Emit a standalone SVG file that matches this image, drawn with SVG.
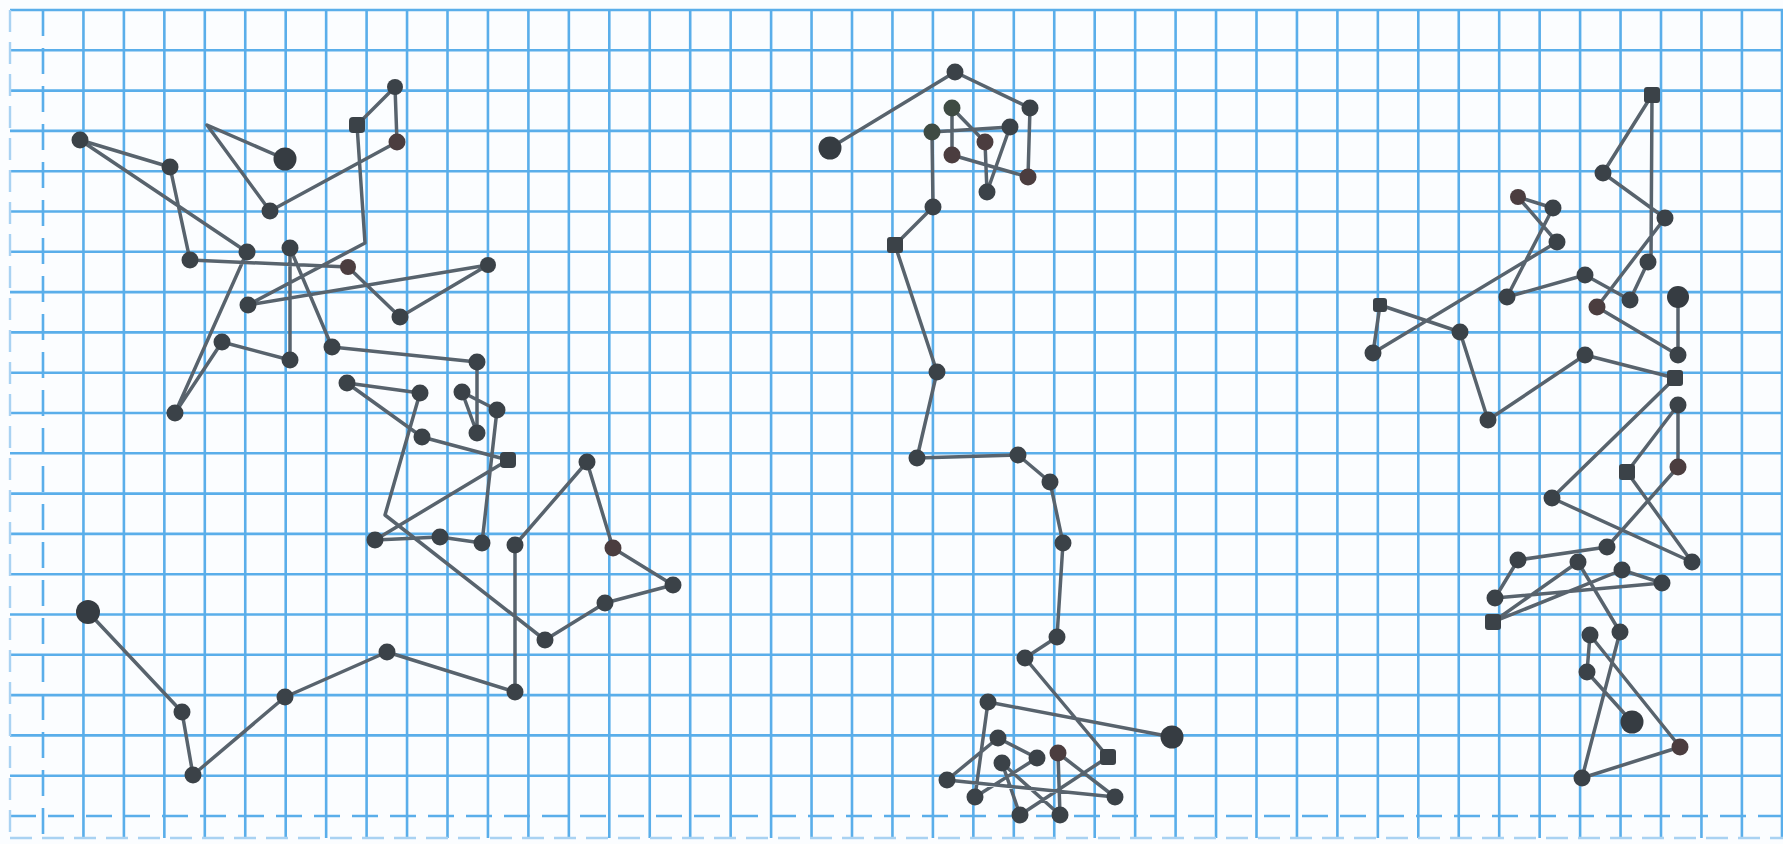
<svg xmlns="http://www.w3.org/2000/svg" width="1783" height="844" viewBox="0 0 1783 844">
<style>
.grid{stroke:#5aaeea;stroke-width:2.6;fill:none}
.edge{stroke:#5aaeea;stroke-width:2.6;fill:none;stroke-dasharray:26 12}
.faint{stroke:#a9d2f2;stroke-width:2.4;fill:none;stroke-dasharray:22 10}
.walk{stroke:#58636d;stroke-width:3.5;fill:none;stroke-linejoin:round;stroke-linecap:round}
.dot{fill:#3b4248}
.big{fill:#363c42}
.br{fill:#4b3d3f}
.gr{fill:#3f4b43}
</style>
<rect width="1783" height="844" fill="#fbfdff"/>
<g id="grid">
<path class="grid" d="M83.45 10V838M123.9 10V838M164.35 10V838M204.8 10V838M245.25 10V838M285.7 10V838M326.15 10V838M366.6 10V838M407.05 10V838M447.5 10V838M487.95 10V838M528.4 10V838M568.85 10V838M609.3 10V838M649.75 10V838M690.2 10V838M730.65 10V838M771.1 10V838M811.55 10V838M852 10V838M892.45 10V838M932.9 10V838M973.35 10V838M1013.8 10V838M1054.25 10V838M1094.7 10V838M1135.15 10V838M1175.6 10V838M1216.05 10V838M1256.5 10V838M1296.95 10V838M1337.4 10V838M1377.85 10V838M1418.3 10V838M1458.75 10V838M1499.2 10V838M1539.65 10V838M1580.1 10V838M1620.55 10V838M1661 10V838M1701.45 10V838M1741.9 10V838M1782 10V838"/>
<path class="grid" d="M10 10H1783M10 50.3H1783M10 90.6H1783M10 130.9H1783M10 171.2H1783M10 211.5H1783M10 251.8H1783M10 292.1H1783M10 332.4H1783M10 372.7H1783M10 413H1783M10 453.3H1783M10 493.6H1783M10 533.9H1783M10 574.2H1783M10 614.5H1783M10 654.8H1783M10 695.1H1783M10 735.4H1783M10 775.7H1783"/>
<path class="edge" d="M43 10V838M10 816H1783"/>
<path class="faint" d="M10 10V838M10 838H1783"/>
</g>
<g id="connectors">
<polyline id="walk-left" class="walk" points="88,612 182,712 193,775 285,697 387,652 515,692 515,545 587,462 613,548 673,585 605,603 545,640 385,515 420,393 347,383 422,437 508,460 375,540 440,537 482,543 497,410 462,392 477,433 477,362 332,347 290,248 290,360 222,342 175,413 247,252 80,140 170,167 190,260 348,267 400,317 488,265 248,305 365,243 357,125 395,87 397,142 270,211 207,125 285,159"/>
<polyline id="walk-middle" class="walk" points="830,148 955,72 1030,108 1028,177 952,155 952,108 985,142 987,192 1010,127 932,132 933,207 895,245 937,372 917,458 1018,455 1050,482 1063,543 1057,637 1025,658 1108,757 1020,815 1002,763 1060,815 1058,753 1115,797 947,780 998,738 1037,758 975,797 988,702 1172,737"/>
<polyline id="walk-right" class="walk" points="1678,297 1678,355 1597,307 1665,218 1603,173 1652,95 1651,262 1648,262 1630,300 1585,275 1507,297 1553,208 1518,197 1557,242 1373,353 1380,305 1460,332 1488,420 1585,355 1675,378 1552,498 1692,562 1627,472 1678,405 1678,467 1607,547 1518,560 1495,598 1662,583 1622,570 1493,622 1578,562 1620,632 1582,778 1680,747 1590,635 1587,672 1632,722"/>
</g>
<g id="walk-left-nodes">
<g id="l01"><circle class="big" cx="88" cy="612" r="12"/></g>
<g id="l02"><circle class="dot" cx="182" cy="712" r="8.5"/></g>
<g id="l03"><circle class="dot" cx="193" cy="775" r="8.5"/></g>
<g id="l04"><circle class="dot" cx="285" cy="697" r="8.5"/></g>
<g id="l05"><circle class="dot" cx="387" cy="652" r="8.5"/></g>
<g id="l06"><circle class="dot" cx="515" cy="692" r="8.5"/></g>
<g id="l07"><circle class="dot" cx="515" cy="545" r="8.5"/></g>
<g id="l08"><circle class="dot" cx="587" cy="462" r="8.5"/></g>
<g id="l09"><circle class="br" cx="613" cy="548" r="8.5"/></g>
<g id="l10"><circle class="dot" cx="673" cy="585" r="8.5"/></g>
<g id="l11"><circle class="dot" cx="605" cy="603" r="8.5"/></g>
<g id="l12"><circle class="dot" cx="545" cy="640" r="8.5"/></g>
<g id="l13"><circle class="dot" cx="420" cy="393" r="8.5"/></g>
<g id="l14"><circle class="dot" cx="347" cy="383" r="8.5"/></g>
<g id="l15"><circle class="dot" cx="422" cy="437" r="8.5"/></g>
<g id="l16"><rect class="dot" x="500" y="452" width="16" height="16" rx="4"/></g>
<g id="l17"><circle class="dot" cx="375" cy="540" r="8.5"/></g>
<g id="l18"><circle class="dot" cx="440" cy="537" r="8.5"/></g>
<g id="l19"><circle class="dot" cx="482" cy="543" r="8.5"/></g>
<g id="l20"><circle class="dot" cx="497" cy="410" r="8.5"/></g>
<g id="l21"><circle class="dot" cx="462" cy="392" r="8.5"/></g>
<g id="l22"><circle class="dot" cx="477" cy="433" r="8.5"/></g>
<g id="l23"><circle class="dot" cx="477" cy="362" r="8.5"/></g>
<g id="l24"><circle class="dot" cx="332" cy="347" r="8.5"/></g>
<g id="l25"><circle class="dot" cx="290" cy="248" r="8.5"/></g>
<g id="l26"><circle class="dot" cx="290" cy="360" r="8.5"/></g>
<g id="l27"><circle class="dot" cx="222" cy="342" r="8.5"/></g>
<g id="l28"><circle class="dot" cx="175" cy="413" r="8.5"/></g>
<g id="l29"><circle class="dot" cx="247" cy="252" r="8.5"/></g>
<g id="l30"><circle class="dot" cx="80" cy="140" r="8.5"/></g>
<g id="l31"><circle class="dot" cx="170" cy="167" r="8.5"/></g>
<g id="l32"><circle class="dot" cx="190" cy="260" r="8.5"/></g>
<g id="l33"><circle class="br" cx="348" cy="267" r="8"/></g>
<g id="l34"><circle class="dot" cx="400" cy="317" r="8.5"/></g>
<g id="l35"><circle class="dot" cx="488" cy="265" r="8"/></g>
<g id="l36"><circle class="dot" cx="248" cy="305" r="8.5"/></g>
<g id="l37"><rect class="dot" x="349" y="117" width="16" height="16" rx="4"/></g>
<g id="l38"><circle class="dot" cx="395" cy="87" r="8"/></g>
<g id="l39"><circle class="br" cx="397" cy="142" r="8.5"/></g>
<g id="l40"><circle class="dot" cx="270" cy="211" r="8.5"/></g>
<g id="l41"><circle class="big" cx="285" cy="159" r="11.5"/></g>
</g>
<g id="walk-middle-nodes">
<g id="m01"><circle class="big" cx="830" cy="148" r="11.5"/></g>
<g id="m02"><circle class="dot" cx="955" cy="72" r="8.5"/></g>
<g id="m03"><circle class="dot" cx="1030" cy="108" r="8.5"/></g>
<g id="m04"><circle class="br" cx="1028" cy="177" r="8.5"/></g>
<g id="m05"><circle class="br" cx="952" cy="155" r="8.5"/></g>
<g id="m06"><circle class="gr" cx="952" cy="108" r="8.5"/></g>
<g id="m07"><circle class="br" cx="985" cy="142" r="8.5"/></g>
<g id="m08"><circle class="dot" cx="987" cy="192" r="8.5"/></g>
<g id="m09"><circle class="dot" cx="1010" cy="127" r="8.5"/></g>
<g id="m10"><circle class="gr" cx="932" cy="132" r="8.5"/></g>
<g id="m11"><circle class="dot" cx="933" cy="207" r="8.5"/></g>
<g id="m12"><rect class="dot" x="887" y="237" width="16" height="16" rx="3"/></g>
<g id="m13"><circle class="dot" cx="937" cy="372" r="8.5"/></g>
<g id="m14"><circle class="dot" cx="917" cy="458" r="8.5"/></g>
<g id="m15"><circle class="dot" cx="1018" cy="455" r="8.5"/></g>
<g id="m16"><circle class="dot" cx="1050" cy="482" r="8.5"/></g>
<g id="m17"><circle class="dot" cx="1063" cy="543" r="8.5"/></g>
<g id="m18"><circle class="dot" cx="1057" cy="637" r="8.5"/></g>
<g id="m19"><circle class="dot" cx="1025" cy="658" r="8.5"/></g>
<g id="m20"><rect class="dot" x="1100" y="749" width="16" height="16" rx="3"/></g>
<g id="m21"><circle class="dot" cx="1020" cy="815" r="8.5"/></g>
<g id="m22"><circle class="dot" cx="1002" cy="763" r="8.5"/></g>
<g id="m23"><circle class="dot" cx="1060" cy="815" r="8.5"/></g>
<g id="m24"><circle class="br" cx="1058" cy="753" r="8.5"/></g>
<g id="m25"><circle class="dot" cx="1115" cy="797" r="8.5"/></g>
<g id="m26"><circle class="dot" cx="947" cy="780" r="8.5"/></g>
<g id="m27"><circle class="dot" cx="998" cy="738" r="8.5"/></g>
<g id="m28"><circle class="dot" cx="1037" cy="758" r="8.5"/></g>
<g id="m29"><circle class="dot" cx="975" cy="797" r="8.5"/></g>
<g id="m30"><circle class="dot" cx="988" cy="702" r="8.5"/></g>
<g id="m31"><circle class="big" cx="1172" cy="737" r="11.5"/></g>
</g>
<g id="walk-right-nodes">
<g id="r01"><circle class="big" cx="1678" cy="297" r="11"/></g>
<g id="r02"><circle class="dot" cx="1678" cy="355" r="8.5"/></g>
<g id="r03"><circle class="br" cx="1597" cy="307" r="8.5"/></g>
<g id="r04"><circle class="dot" cx="1665" cy="218" r="8.5"/></g>
<g id="r05"><circle class="dot" cx="1603" cy="173" r="8.5"/></g>
<g id="r06"><rect class="dot" x="1644" y="87" width="16" height="16" rx="3"/></g>
<g id="r07"><circle class="dot" cx="1648" cy="262" r="8.5"/></g>
<g id="r08"><circle class="dot" cx="1630" cy="300" r="8.5"/></g>
<g id="r09"><circle class="dot" cx="1585" cy="275" r="8.5"/></g>
<g id="r10"><circle class="dot" cx="1507" cy="297" r="8.5"/></g>
<g id="r11"><circle class="dot" cx="1553" cy="208" r="8.5"/></g>
<g id="r12"><circle class="br" cx="1518" cy="197" r="8"/></g>
<g id="r13"><circle class="dot" cx="1557" cy="242" r="8.5"/></g>
<g id="r14"><circle class="dot" cx="1373" cy="353" r="8.5"/></g>
<g id="r15"><rect class="dot" x="1373" y="298" width="14" height="14" rx="3"/></g>
<g id="r16"><circle class="dot" cx="1460" cy="332" r="8.5"/></g>
<g id="r17"><circle class="dot" cx="1488" cy="420" r="8.5"/></g>
<g id="r18"><circle class="dot" cx="1585" cy="355" r="8.5"/></g>
<g id="r19"><rect class="dot" x="1667" y="370" width="16" height="16" rx="3"/></g>
<g id="r20"><circle class="dot" cx="1552" cy="498" r="8.5"/></g>
<g id="r21"><circle class="dot" cx="1692" cy="562" r="8.5"/></g>
<g id="r22"><rect class="dot" x="1619" y="464" width="16" height="16" rx="3"/></g>
<g id="r23"><circle class="dot" cx="1678" cy="405" r="8.5"/></g>
<g id="r24"><circle class="br" cx="1678" cy="467" r="8.5"/></g>
<g id="r25"><circle class="dot" cx="1607" cy="547" r="8.5"/></g>
<g id="r26"><circle class="dot" cx="1518" cy="560" r="8.5"/></g>
<g id="r27"><circle class="dot" cx="1495" cy="598" r="8.5"/></g>
<g id="r28"><circle class="dot" cx="1662" cy="583" r="8.5"/></g>
<g id="r29"><circle class="dot" cx="1622" cy="570" r="8.5"/></g>
<g id="r30"><rect class="dot" x="1485" y="614" width="16" height="16" rx="3"/></g>
<g id="r31"><circle class="dot" cx="1578" cy="562" r="8.5"/></g>
<g id="r32"><circle class="dot" cx="1620" cy="632" r="8.5"/></g>
<g id="r33"><circle class="dot" cx="1582" cy="778" r="8.5"/></g>
<g id="r34"><circle class="br" cx="1680" cy="747" r="8.5"/></g>
<g id="r35"><circle class="dot" cx="1590" cy="635" r="8.5"/></g>
<g id="r36"><circle class="dot" cx="1587" cy="672" r="8.5"/></g>
<g id="r37"><circle class="big" cx="1632" cy="722" r="11.5"/></g>
</g>
</svg>
